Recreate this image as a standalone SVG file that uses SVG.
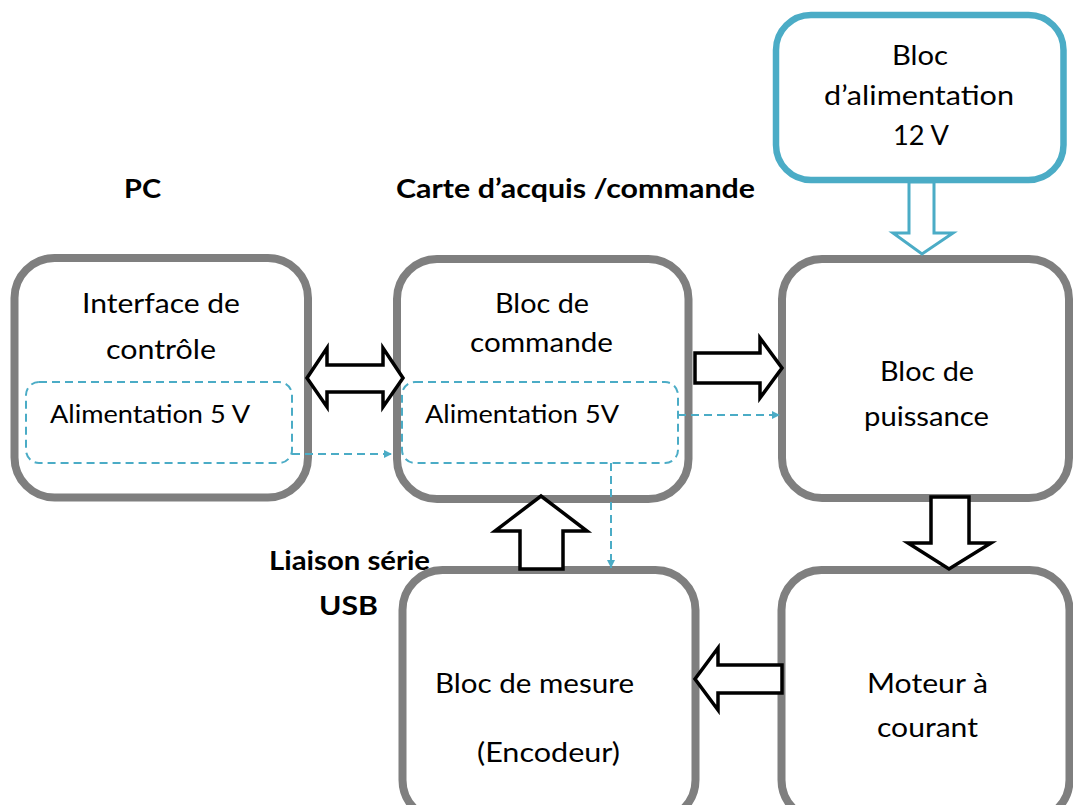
<svg xmlns="http://www.w3.org/2000/svg" width="1073" height="805" viewBox="0 0 1073 805">
  <style>
    .box { fill: #ffffff; stroke: #7f7f7f; stroke-width: 8; }
    .supply { fill: #ffffff; stroke: #4bacc6; stroke-width: 6.5; }
    .zone { fill: none; stroke: #4bacc6; stroke-width: 2; stroke-dasharray: 8 5; }
    .link { fill: none; stroke: #4bacc6; stroke-width: 2; stroke-dasharray: 8 5; }
    .flow { fill: #ffffff; stroke: #000000; stroke-width: 3.5; stroke-linejoin: miter; }
    .feed { fill: #ffffff; stroke: #4bacc6; stroke-width: 3; stroke-linejoin: miter; }
    text { font-family: Lato, "Liberation Sans", sans-serif; fill: #000000; }
    .t { font-size: 27px; }
    .s { font-size: 25px; }
    .h { font-size: 27px; font-weight: bold; }
  </style>
  <defs>
    <marker id="tri" viewBox="0 0 10 10" refX="10" refY="5" markerWidth="8" markerHeight="8" markerUnits="userSpaceOnUse" orient="auto">
      <path d="M0,0 L10,5 L0,10 z" fill="#4bacc6"/>
    </marker>
  </defs>

  <!-- section headings -->
  <g id="labels">
    <text class="h" x="124" y="198" textLength="37" lengthAdjust="spacingAndGlyphs">PC</text>
    <text class="h" x="396" y="198" textLength="359" lengthAdjust="spacingAndGlyphs">Carte d’acquis /commande</text>
    <text class="h" x="269" y="570" textLength="161" lengthAdjust="spacingAndGlyphs">Liaison série</text>
    <text class="h" x="319" y="615" textLength="59" lengthAdjust="spacingAndGlyphs">USB</text>
  </g>

  <!-- power supply 12 V -->
  <g id="alim12">
    <rect class="supply" x="776" y="15" width="287.5" height="165" rx="35"/>
    <text class="t" x="892" y="65" textLength="56" lengthAdjust="spacingAndGlyphs">Bloc</text>
    <text class="t" x="824" y="105" textLength="190" lengthAdjust="spacingAndGlyphs">d’alimentation</text>
    <text class="t" x="893" y="145" textLength="56" lengthAdjust="spacingAndGlyphs">12 V</text>
  </g>

  <!-- PC side -->
  <g id="interface">
    <rect class="box" x="14.5" y="258" width="293.5" height="239.5" rx="40"/>
    <text class="t" x="82" y="313" textLength="158" lengthAdjust="spacingAndGlyphs">Interface de</text>
    <text class="t" x="106" y="359" textLength="110" lengthAdjust="spacingAndGlyphs">contrôle</text>
    <rect class="zone" x="26" y="382" width="266" height="81" rx="13"/>
    <text class="s" x="50" y="423" textLength="200" lengthAdjust="spacingAndGlyphs">Alimentation 5 V</text>
  </g>

  <!-- control block -->
  <g id="commande">
    <rect class="box" x="397" y="259" width="291.5" height="240" rx="40"/>
    <text class="t" x="495" y="313" textLength="94" lengthAdjust="spacingAndGlyphs">Bloc de</text>
    <text class="t" x="470" y="352" textLength="143" lengthAdjust="spacingAndGlyphs">commande</text>
    <rect class="zone" x="402" y="382" width="276" height="81" rx="13"/>
    <text class="s" x="425" y="423" textLength="194" lengthAdjust="spacingAndGlyphs">Alimentation 5V</text>
  </g>

  <!-- power stage -->
  <g id="puissance">
    <rect class="box" x="782" y="259" width="287" height="239" rx="40"/>
    <text class="t" x="880" y="381" textLength="94" lengthAdjust="spacingAndGlyphs">Bloc de</text>
    <text class="t" x="864" y="426" textLength="125" lengthAdjust="spacingAndGlyphs">puissance</text>
  </g>

  <!-- motor -->
  <g id="moteur">
    <rect class="box" x="781.5" y="570" width="288" height="250" rx="40"/>
    <text class="t" x="867" y="693" textLength="121" lengthAdjust="spacingAndGlyphs">Moteur à</text>
    <text class="t" x="877" y="737" textLength="101" lengthAdjust="spacingAndGlyphs">courant</text>
  </g>

  <!-- measurement block -->
  <g id="mesure">
    <rect class="box" x="402.5" y="570" width="293" height="250" rx="40"/>
    <text class="t" x="435" y="693" textLength="199" lengthAdjust="spacingAndGlyphs">Bloc de mesure</text>
    <text class="t" x="477" y="762" textLength="143" lengthAdjust="spacingAndGlyphs">(Encodeur)</text>
  </g>

  <!-- connectors -->
  <g id="connectors">
    <!-- serial link PC <-> card -->
    <polygon class="flow" points="307,378 327,348 327,365 383,365 383,348 403,378 383,407 383,392 327,392 327,407"/>
    <!-- command -> power stage -->
    <polygon class="flow" points="695,353 760,353 760,338 782,368 760,398 760,383 695,383"/>
    <!-- power stage -> motor -->
    <polygon class="flow" points="931,497 969,497 969,543 991,543 949,569 908,543 931,543"/>
    <!-- motor -> measurement -->
    <polygon class="flow" points="782,665 718,665 718,648 695,679 718,710 718,693 782,693"/>
    <!-- measurement -> command -->
    <polygon class="flow" points="520,569 520,531 495,531 541,496 587,531 563,531 563,569"/>
    <!-- 12 V feed -->
    <polygon class="feed" points="909,182 934,182 934,233 953,233 922,254 893,233 909,233"/>
    <!-- 5 V distribution -->
    <path class="link" d="M292,454 H392" marker-end="url(#tri)"/>
    <path class="link" d="M678,415 H780" marker-end="url(#tri)"/>
    <path class="link" d="M611,463 V568" marker-end="url(#tri)"/>
  </g>
</svg>
